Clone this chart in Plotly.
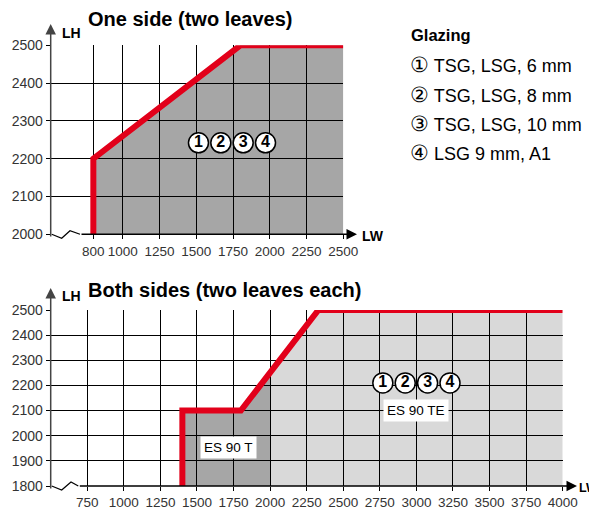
import numpy as np
import plotly.graph_objects as go

# the page body has an 8px margin, so the figure is drawn 8px in from the corner
PAD = 8
W, H = 597 - PAD, 513 - PAD
RED = '#e2001a'
DARK = '#a6a6a6'
LIGHT = '#d9d9d9'
FONT = 'Liberation Sans'

# one side (two leaves)
one_lw = [800, 800, 1800, 2500]
one_lh = [2000, 2200, 2500, 2500]
one_xticks = [800, 1000, 1250, 1500, 1750, 2000, 2250, 2500]
one_yticks = [2000, 2100, 2200, 2300, 2400, 2500]

# both sides (two leaves each)
both_lw = [1400, 1400, 1800, 2330, 4000]
both_lh = [1800, 2100, 2100, 2500, 2500]
es90t_max_lw = 2000
both_xticks = [750, 1000, 1250, 1500, 1750, 2000, 2250, 2500, 2750, 3000,
               3250, 3500, 3750, 4000]
both_yticks = [1800, 1900, 2000, 2100, 2200, 2300, 2400, 2500]

badges = ['1', '2', '3', '4']
glazing_marks = ['①', '②', '③', '④']
glazing = ['TSG, LSG, 6 mm', 'TSG, LSG, 8 mm', 'TSG, LSG, 10 mm', 'LSG 9 mm, A1']


def fx(px):
    return (px - PAD) / W


def fy(py):
    return 1 - (py - PAD) / H


def poly_path(xs, ys):
    pts = ' L '.join(f'{x},{y}' for x, y in zip(xs, ys))
    return f'M {pts} Z'


fig = go.Figure()

# filled areas (shapes below the grid so the grid stays visible)
top_x = one_lw + [one_lw[-1]]
top_y = one_lh + [one_yticks[0]]
fig.add_shape(type='path', path=poly_path(top_x, top_y), xref='x', yref='y',
              fillcolor=DARK, line_width=0, layer='below')

split_lh = float(np.interp(es90t_max_lw, both_lw[2:], both_lh[2:]))
t_x = [lw for lw in both_lw if lw <= es90t_max_lw] + [es90t_max_lw, es90t_max_lw]
t_y = [lh for lw, lh in zip(both_lw, both_lh) if lw <= es90t_max_lw] + [split_lh, both_yticks[0]]
te_x = [es90t_max_lw, es90t_max_lw] + [lw for lw in both_lw if lw > es90t_max_lw] + [both_lw[-1]]
te_y = [both_yticks[0], split_lh] + [lh for lw, lh in zip(both_lw, both_lh) if lw > es90t_max_lw] + [both_yticks[0]]
fig.add_shape(type='path', path=poly_path(t_x, t_y), xref='x2', yref='y2',
              fillcolor=DARK, line_width=0, layer='below')
fig.add_shape(type='path', path=poly_path(te_x, te_y), xref='x2', yref='y2',
              fillcolor=LIGHT, line_width=0, layer='below')

# limit lines
fig.add_scatter(x=one_lw, y=one_lh, mode='lines', line=dict(color=RED, width=6),
                cliponaxis=False, showlegend=False, hoverinfo='skip')
fig.add_scatter(x=both_lw, y=both_lh, mode='lines', line=dict(color=RED, width=6),
                cliponaxis=False, showlegend=False, hoverinfo='skip', xaxis='x2', yaxis='y2')

# glazing badges
for (cx, cy, sp, xa, ya) in [(1743, 2242, 152, 'x', 'y'), (3000, 2210, 153, 'x2', 'y2')]:
    fig.add_scatter(x=[cx + (i - 1.5) * sp for i in range(len(badges))],
                    y=[cy] * len(badges), mode='markers+text', text=badges,
                    marker=dict(size=20, color='white', line=dict(color='black', width=1.5)),
                    textfont=dict(family=FONT, size=16, color='black', weight='bold'),
                    textposition='middle center', showlegend=False, hoverinfo='skip',
                    xaxis=xa, yaxis=ya)

axis_common = dict(showgrid=True, gridcolor='black', gridwidth=1, zeroline=False,
                   showline=False, ticks='outside', ticklen=4, tickcolor='black',
                   tickfont=dict(family=FONT, size=14, color='#333'), fixedrange=True,
                   automargin=False, tickangle=0)
x_font = dict(family=FONT, size=13.5, color='#333')

fig.update_layout(
    width=W, height=H, margin=dict(l=0, r=0, t=0, b=0, autoexpand=False),
    paper_bgcolor='white', plot_bgcolor='white', showlegend=False,
    xaxis=dict(axis_common, domain=[fx(50.7), fx(343.3)], range=[510, 2500],
               tickvals=one_xticks, anchor='y', tickfont=x_font),
    yaxis=dict(axis_common, domain=[fy(234.3), fy(45.3)], range=[2000, 2500],
               tickvals=one_yticks, anchor='x'),
    xaxis2=dict(axis_common, domain=[fx(50.7), fx(562.7)], range=[500, 4000],
                tickvals=both_xticks, anchor='y2', tickfont=x_font),
    yaxis2=dict(axis_common, domain=[fy(486), fy(310)], range=[1800, 2500],
                tickvals=both_yticks, anchor='x2'),
)

# axes with arrows and break marks
for (x0, x1, y0, ytop, ybot) in [(80, 357, 234.3, 24, 238), (78.3, 577, 486, 288, 490)]:
    fig.add_annotation(x=fx(x1), y=fy(y0), ax=x0 - x1, ay=0, xref='paper', yref='paper',
                       axref='pixel', ayref='pixel', text='', showarrow=True,
                       arrowhead=2, arrowsize=1.4, arrowwidth=1.5, arrowcolor='black')
    fig.add_annotation(x=fx(50.7), y=fy(ytop), ax=0, ay=ybot - ytop, xref='paper', yref='paper',
                       axref='pixel', ayref='pixel', text='', showarrow=True,
                       arrowhead=2, arrowsize=1.4, arrowwidth=1.5, arrowcolor='#444')

zig_top = [(51.7, 234.3), (61.7, 238.3), (70, 230.7), (80, 234.3)]
zig_bot = [(51.7, 486), (61.7, 490), (71, 482), (78.3, 486)]
for zig in (zig_top, zig_bot):
    path = 'M ' + ' L '.join(f'{fx(a)},{fy(b)}' for a, b in zig)
    fig.add_shape(type='path', path=path, xref='paper', yref='paper',
                  line=dict(color='black', width=1.2))


# labels
def label(text, px, py, size, bold=False, xanchor='left'):
    fig.add_annotation(x=fx(px), y=fy(py), xref='paper', yref='paper', text=text,
                       showarrow=False, xanchor=xanchor, yanchor='middle',
                       font=dict(family=FONT, size=size, color='black',
                                 weight='bold' if bold else 'normal'))


label('One side (two leaves)', 86, 19, 20, bold=True)
label('Both sides (two leaves each)', 86, 290, 20, bold=True)
label('LH', 60, 33, 14, bold=True)
label('LH', 60, 296, 14, bold=True)
label('LW', 360, 236, 14, bold=True)
label('LW', 577, 488, 12.5, bold=True)
label('Glazing', 409, 35, 16.5, bold=True)
for i, (m, g) in enumerate(zip(glazing_marks, glazing)):
    label(f'<span style="font-size:21px">{m}</span> {g}', 408, 65 + i * 29.3, 18)

fig.add_annotation(x=1714, y=1953, xref='x2', yref='y2', text='ES 90 T', showarrow=False,
                   bgcolor='white', borderpad=3,
                   font=dict(family=FONT, size=13.5, color='black'))
fig.add_annotation(x=3000, y=2100, xref='x2', yref='y2', text='ES 90 TE', showarrow=False,
                   bgcolor='white', borderpad=3,
                   font=dict(family=FONT, size=13.5, color='black'))

fig.write_html('out.html')
